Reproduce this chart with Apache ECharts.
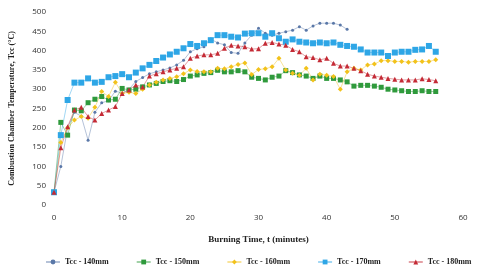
<!DOCTYPE html>
<html lang="en">
<head>
    <meta charset="UTF-8">
    <title>Combustion Chamber Temperature</title>
    <script src="https://cdn.jsdelivr.net/npm/echarts@6/dist/echarts.min.js"></script>
    <style>
        html, body { margin: 0; padding: 0; background: #fff; }
        #chart { width: 477px; height: 269px; }
    </style>
</head>
<body>
<div id="chart"></div>
<script type="text/javascript">
    // burning time in minutes, one reading per minute
    var minutes = [];
    for (var m = 0; m <= 56; m++) minutes.push(m);

    var tcc140 = [33, 100, 200, 240, 230, 168, 240, 265, 270, 295, 290, 300, 320, 330, 340, 345, 350, 355, 363, 375,
        397, 405, 410, 430, 420, 415, 395, 393, 420, 440, 458, 445, 440, 445, 449, 453, 462, 453, 464, 471,
        471, 471, 466, 455];
    var tcc150 = [33, 214, 181, 246, 244, 265, 274, 281, 272, 274, 302, 298, 300, 306, 311, 315, 320, 322, 320, 325,
        334, 337, 341, 343, 349, 345, 345, 348, 345, 331, 328, 324, 331, 334, 348, 343, 337, 334, 328, 334,
        328, 328, 324, 319, 308, 310, 310, 308, 305, 300, 298, 296, 294, 294, 296, 294, 294];
    var tcc160 = [33, 162, 200, 220, 229, 225, 253, 294, 281, 318, 289, 292, 289, 300, 311, 318, 324, 328, 332, 340,
        350, 346, 345, 345, 354, 353, 358, 364, 368, 338, 351, 353, 358, 380, 350, 341, 336, 354, 324, 339,
        336, 333, 300, 345, 354, 350, 363, 365, 374, 374, 372, 372, 370, 372, 372, 372, 376];
    var tcc170 = [33, 181, 272, 317, 317, 328, 317, 319, 331, 334, 339, 331, 343, 354, 363, 373, 382, 390, 397, 406,
        417, 412, 419, 427, 440, 440, 436, 434, 444, 445, 445, 436, 445, 432, 423, 429, 423, 421, 419, 421,
        419, 421, 415, 412, 410, 403, 395, 395, 395, 386, 395, 397, 397, 402, 403, 412, 397];
    var tcc180 = [33, 148, 203, 246, 253, 229, 220, 237, 246, 255, 289, 298, 311, 306, 334, 340, 345, 350, 354, 358,
        380, 386, 389, 389, 393, 406, 414, 412, 410, 404, 405, 419, 421, 417, 414, 403, 397, 384, 382, 376,
        380, 367, 360, 360, 354, 348, 339, 334, 331, 328, 326, 324, 324, 324, 327, 325, 322];

    var seriesNames = ['Tcc - 140mm', 'Tcc - 150mm', 'Tcc - 160mm', 'Tcc - 170mm', 'Tcc - 180mm'];
    var seriesColors = ['#5a78a8', '#2f9a3c', '#f2c21b', '#2ea6e6', '#c42a35'];
    var seriesSymbols = ['circle', 'rect', 'diamond', 'rect', 'triangle'];
    var symbolSizes = [3, 5, 5, 6, 5];
    var seriesData = [tcc140, tcc150, tcc160, tcc170, tcc180];

    function pairs(values) {
        var out = [];
        for (var i = 0; i < values.length; i++) out.push([minutes[i], values[i]]);
        return out;
    }

    var series = [];
    for (var s = 0; s < seriesNames.length; s++) {
        series.push({
            name: seriesNames[s],
            type: 'line',
            data: pairs(seriesData[s]),
            symbol: seriesSymbols[s],
            symbolSize: symbolSizes[s],
            showAllSymbol: true,
            lineStyle: { width: 1, color: seriesColors[s], opacity: 0.45 },
            itemStyle: { color: seriesColors[s] },
            animation: false
        });
    }

    var myChart = echarts.init(document.getElementById('chart'));
    myChart.setOption({
        color: seriesColors,
        textStyle: { fontFamily: 'Liberation Serif' },
        grid: { left: 53, right: 14, top: 12, bottom: 64 },
        xAxis: {
            type: 'value',
            min: 0, max: 60, interval: 10,
            name: 'Burning Time, t (minutes)',
            nameLocation: 'middle',
            nameGap: 30,
            nameTextStyle: { fontFamily: 'Liberation Serif', fontWeight: 'bold', fontSize: 9, color: '#222' },
            axisLine: { show: false },
            axisTick: { show: false },
            splitLine: { show: false },
            axisLabel: { fontFamily: 'Open Sans', fontSize: 8, color: '#333', margin: 9 }
        },
        yAxis: {
            type: 'value',
            min: 0, max: 500, interval: 50,
            name: 'Combustion Chamber Temperature, Tcc (°C)',
            nameLocation: 'middle',
            nameGap: 38,
            nameTextStyle: { fontFamily: 'Liberation Serif', fontWeight: 'bold', fontSize: 8, color: '#222' },
            axisLine: { show: false },
            axisTick: { show: false },
            splitLine: { show: false },
            axisLabel: { fontFamily: 'Open Sans', fontSize: 8, color: '#333', margin: 8 }
        },
        legend: {
            data: seriesNames,
            left: 40,
            top: 253,
            itemWidth: 14,
            itemHeight: 6,
            itemGap: 27,
            textStyle: { fontFamily: 'Liberation Serif', fontWeight: 'bold', fontSize: 8, color: '#222' }
        },
        series: series
    });
</script>
</body>
</html>
